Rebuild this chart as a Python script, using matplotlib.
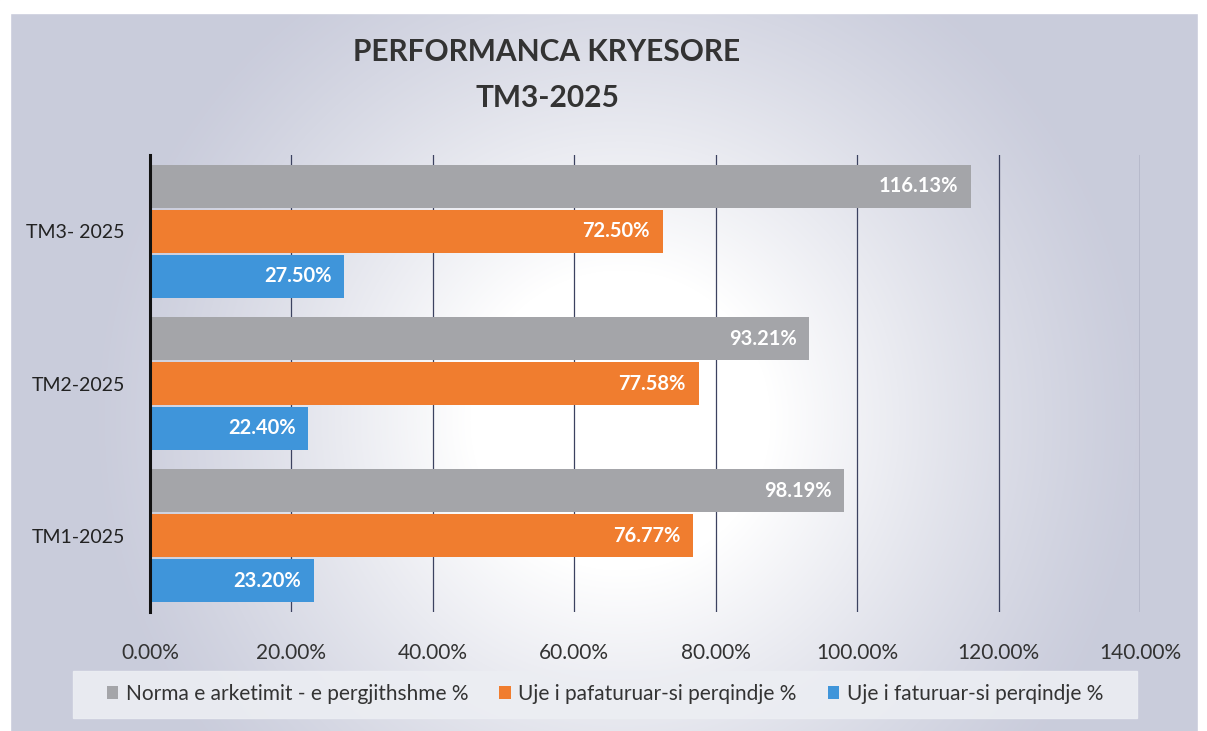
import matplotlib.pyplot as plt
import numpy as np
from matplotlib.patches import Rectangle

categories = ['TM1-2025', 'TM2-2025', 'TM3- 2025']
series = [
	'Norma e arketimit - e pergjithshme %',
	'Uje i pafaturuar-si perqindje %',
	'Uje i faturuar-si perqindje %',
]
norma = [98.19, 93.21, 116.13]
pafaturuar = [76.77, 77.58, 72.50]
faturuar = [23.20, 22.40, 27.50]
colors = ['#a4a5a9', '#f07d2f', '#3f95da']
xticks = [0, 20, 40, 60, 80, 100, 120, 140]

plt.rcParams['font.family'] = ['Lato', 'DejaVu Sans']

fig = plt.figure(figsize=(12.07, 7.31), dpi=100)
fig.patch.set_facecolor('white')

# background: lavender-gray panel with a soft white glow in the middle
bg = fig.add_axes([0, 0, 1, 1], zorder=-2)
bg.set_axis_off()
W, H = 1207, 731
yy, xx = np.mgrid[0:H, 0:W]
r = np.hypot(xx - 620, yy - 420)
glow = np.clip(1 - (r - 150) / 380, 0, 1) ** 1.2
edge = np.array([0.79, 0.80, 0.86])
img = edge[None, None, :] * (1 - glow[..., None]) + 1.0 * glow[..., None]
bg.imshow(img, extent=[0, W, H, 0], aspect='auto')
bg.add_patch(Rectangle((0, 0), W, 13, color='white'))
bg.add_patch(Rectangle((0, 0), 10, H, color='white'))
bg.add_patch(Rectangle((1198, 0), 10, H, color='white'))
bg.add_patch(Rectangle((73, 671), 1064, 47, color='#eceef3', alpha=0.9))
bg.set_xlim(0, W)
bg.set_ylim(H, 0)

ax = fig.add_axes([150 / W, 1 - 612 / H, 990 / W, 457 / H])
ax.set_facecolor('none')

y = np.arange(len(categories))
h = 0.295
values = [norma, pafaturuar, faturuar]
offsets = [h, 0, -h]
for vals, off, c, name in zip(values, offsets, colors, series):
	bars = ax.barh(y + off, vals, height=h * 0.96, color=c, label=name, zorder=3)
	for b, v in zip(bars, vals):
		ax.text(v - 1.8, b.get_y() + b.get_height() / 2, f'{v:.2f}%', ha='right', va='center',
				color='white', fontsize=14.5, fontweight='bold', zorder=4)

ax.set_xlim(0, 140)
ax.set_ylim(-0.5, 2.5)
ax.set_xticks(xticks)
ax.set_xticklabels([f'{t:.2f}%' for t in xticks], fontsize=15, color='#333333')
ax.set_yticks(y)
ax.set_yticklabels(categories, fontsize=14, color='#222222')
ax.tick_params(axis='x', length=0, pad=22)
ax.tick_params(axis='y', length=0, pad=18)
ax.grid(axis='x', color='#3c4260', lw=0.9, zorder=0)
for s in ['top', 'right', 'bottom']:
	ax.spines[s].set_visible(False)
ax.spines['left'].set_linewidth(2.2)
ax.spines['left'].set_color('#111111')
ax.spines['left'].set_zorder(5)

fig.text(547 / W, 1 - 52 / H, 'PERFORMANCA KRYESORE', ha='center', va='center',
		 fontsize=21.5, fontweight='bold', color='#333333')
fig.text(547 / W, 1 - 98 / H, 'TM3-2025', ha='center', va='center',
		 fontsize=21.5, fontweight='bold', color='#333333')

fig.legend(loc='center', bbox_to_anchor=(605 / W, 1 - 694 / H), ncol=3, frameon=False,
		   fontsize=15, handlelength=0.55, handleheight=0.55, columnspacing=1.5,
		   handletextpad=0.35, labelcolor='#333333')

fig.savefig('out.png', dpi=100)
